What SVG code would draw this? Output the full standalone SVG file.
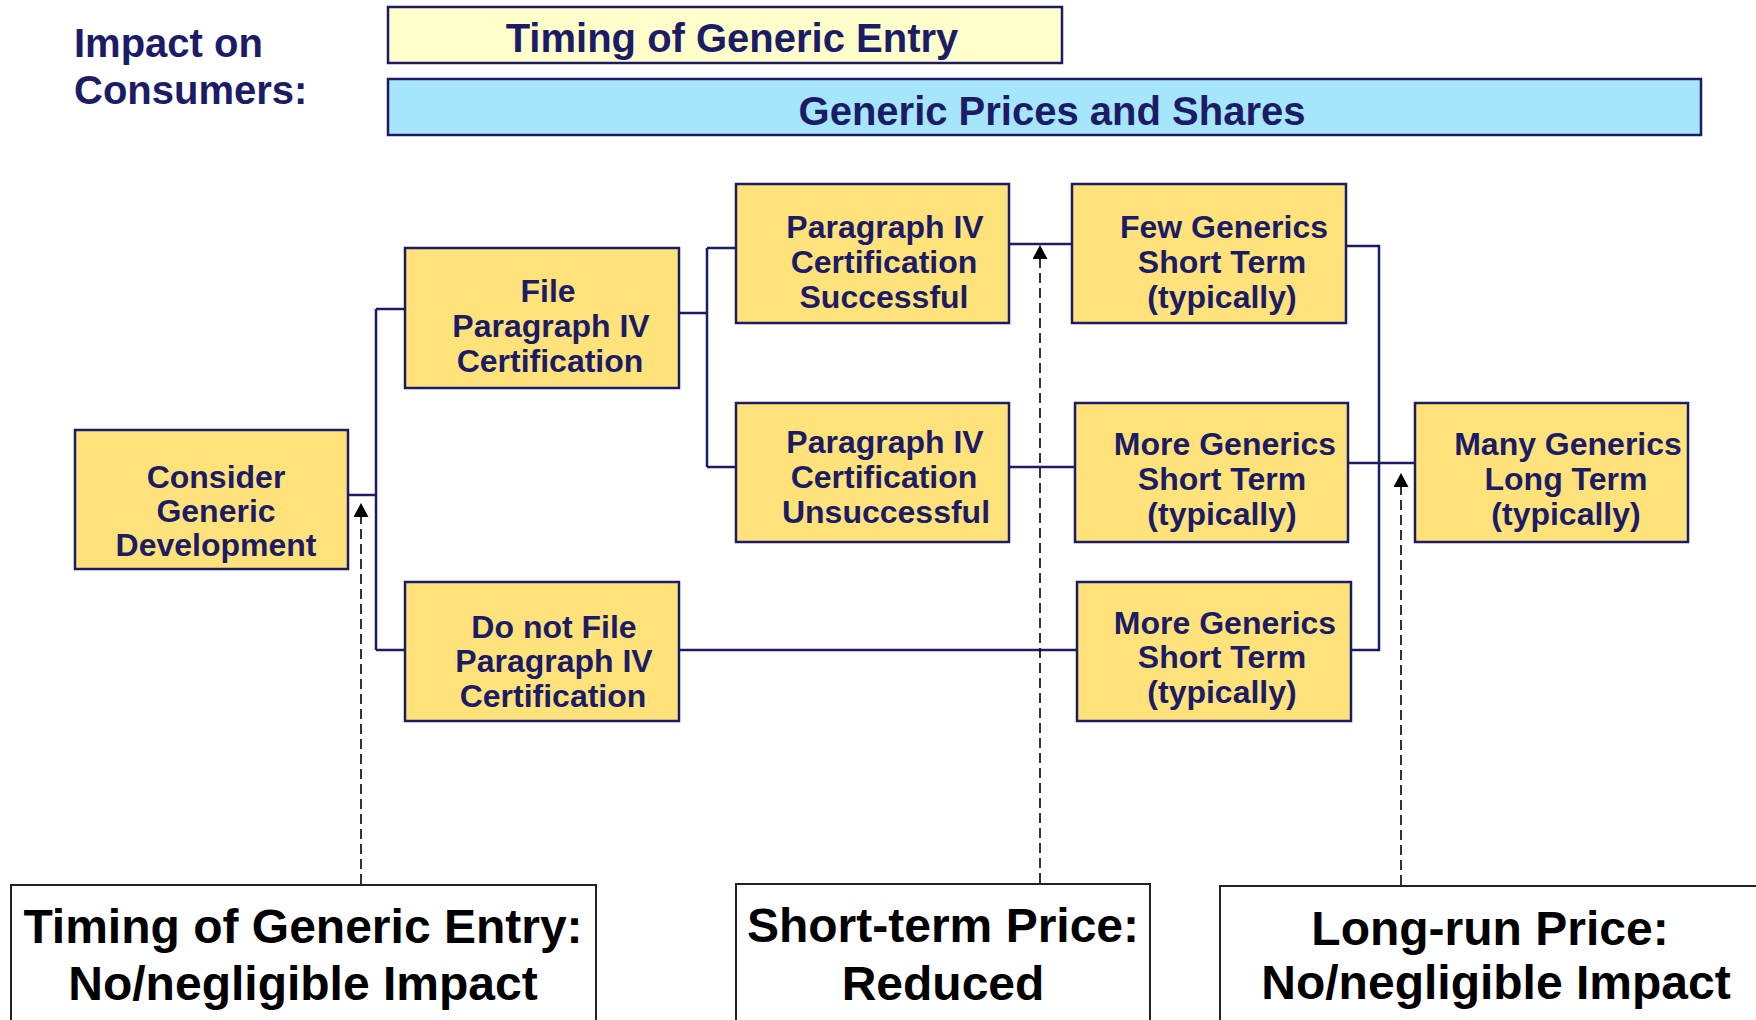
<svg xmlns="http://www.w3.org/2000/svg" width="1756" height="1020" viewBox="0 0 1756 1020">
<style>
  .node rect { fill: #FFE27A; stroke: #1C1C66; stroke-width: 2.5; }
  .node text { font-family: "Liberation Sans", Arial, sans-serif; font-weight: bold; font-size: 32px; fill: #1C1C66; text-anchor: middle; }
  .hdr text { font-family: "Liberation Sans", Arial, sans-serif; font-weight: bold; font-size: 40px; fill: #1C1C66; }
  .hdr rect { stroke: #1C1C66; stroke-width: 2.5; }
  .out rect { fill: #FFFFFF; stroke: #222222; stroke-width: 2; }
  .out text { font-family: "Liberation Sans", Arial, sans-serif; font-weight: bold; font-size: 48px; fill: #000000; text-anchor: middle; }
  .conn { fill: none; stroke: #1C1C66; stroke-width: 2.5; }
  .dash { fill: none; stroke: #000000; stroke-width: 1.6; stroke-dasharray: 10 5; }
</style>
<defs>
  <marker id="ah" viewBox="0 0 14 15" refX="0" refY="7.5" markerWidth="14" markerHeight="15" markerUnits="userSpaceOnUse" orient="auto">
    <path d="M0,0 L14,7.5 L0,15 Z" fill="#000000"/>
  </marker>
</defs>

<g id="header-impact" class="hdr">
  <text x="74" y="57">Impact on</text>
  <text x="74" y="104">Consumers:</text>
</g>
<g id="header-timing" class="hdr">
  <rect x="388" y="7" width="674" height="56" fill="#FFFFCC"/>
  <text x="732" y="52" text-anchor="middle">Timing of Generic Entry</text>
</g>
<g id="header-prices" class="hdr">
  <rect x="388" y="79" width="1313" height="56" fill="#A6E6FD"/>
  <text x="1052" y="125" text-anchor="middle">Generic Prices and Shares</text>
</g>

<g id="connectors">
  <path class="conn" d="M348,495 H376 M376,309 V650 M376,309 H405 M376,650 H405"/>
  <path class="conn" d="M679,313 H707 M707,248 V467 M707,248 H736 M707,467 H736"/>
  <path class="conn" d="M1009,244 H1072"/>
  <path class="conn" d="M1009,467 H1075"/>
  <path class="conn" d="M679,650 H1077"/>
  <path class="conn" d="M1346,246 H1379 V650 H1351"/>
  <path class="conn" d="M1348,463 H1415"/>
  <path class="dash" d="M361,884 V517" marker-end="url(#ah)"/>
  <path class="dash" d="M1040,883 V259" marker-end="url(#ah)"/>
  <path class="dash" d="M1401,885 V487" marker-end="url(#ah)"/>
</g>

<g id="node-consider" class="node">
  <rect x="75" y="430" width="273" height="139"/>
  <text x="216"><tspan x="216" y="488">Consider</tspan><tspan x="216" y="522">Generic</tspan><tspan x="216" y="556">Development</tspan></text>
</g>
<g id="node-file" class="node">
  <rect x="405" y="248" width="274" height="140"/>
  <text><tspan x="548" y="302">File</tspan><tspan x="551" y="337">Paragraph IV</tspan><tspan x="550" y="372">Certification</tspan></text>
</g>
<g id="node-donotfile" class="node">
  <rect x="405" y="582" width="274" height="139"/>
  <text><tspan x="554" y="638">Do not File</tspan><tspan x="554" y="672">Paragraph IV</tspan><tspan x="553" y="707">Certification</tspan></text>
</g>
<g id="node-successful" class="node">
  <rect x="736" y="184" width="273" height="139"/>
  <text><tspan x="885" y="238">Paragraph IV</tspan><tspan x="884" y="273">Certification</tspan><tspan x="884" y="308">Successful</tspan></text>
</g>
<g id="node-unsuccessful" class="node">
  <rect x="736" y="403" width="273" height="139"/>
  <text><tspan x="885" y="453">Paragraph IV</tspan><tspan x="884" y="488">Certification</tspan><tspan x="886" y="523">Unsuccessful</tspan></text>
</g>
<g id="node-few" class="node">
  <rect x="1072" y="184" width="274" height="139"/>
  <text><tspan x="1224" y="238">Few Generics</tspan><tspan x="1222" y="273">Short Term</tspan><tspan x="1222" y="308">(typically)</tspan></text>
</g>
<g id="node-more1" class="node">
  <rect x="1075" y="403" width="273" height="139"/>
  <text><tspan x="1225" y="455">More Generics</tspan><tspan x="1222" y="490">Short Term</tspan><tspan x="1222" y="525">(typically)</tspan></text>
</g>
<g id="node-more2" class="node">
  <rect x="1077" y="582" width="274" height="139"/>
  <text><tspan x="1225" y="634">More Generics</tspan><tspan x="1222" y="668">Short Term</tspan><tspan x="1222" y="703">(typically)</tspan></text>
</g>
<g id="node-many" class="node">
  <rect x="1415" y="403" width="273" height="139"/>
  <text><tspan x="1568" y="455">Many Generics</tspan><tspan x="1566" y="490">Long Term</tspan><tspan x="1566" y="525">(typically)</tspan></text>
</g>

<g id="out-timing" class="out">
  <rect x="11" y="885" width="585" height="160"/>
  <text><tspan x="303" y="943">Timing of Generic Entry:</tspan><tspan x="303" y="1000">No/negligible Impact</tspan></text>
</g>
<g id="out-short" class="out">
  <rect x="736" y="884" width="414" height="160"/>
  <text><tspan x="943" y="942">Short-term Price:</tspan><tspan x="943" y="1000">Reduced</tspan></text>
</g>
<g id="out-long" class="out">
  <rect x="1220" y="886" width="560" height="160"/>
  <text><tspan x="1490" y="945">Long-run Price:</tspan><tspan x="1496" y="999">No/negligible Impact</tspan></text>
</g>
</svg>
